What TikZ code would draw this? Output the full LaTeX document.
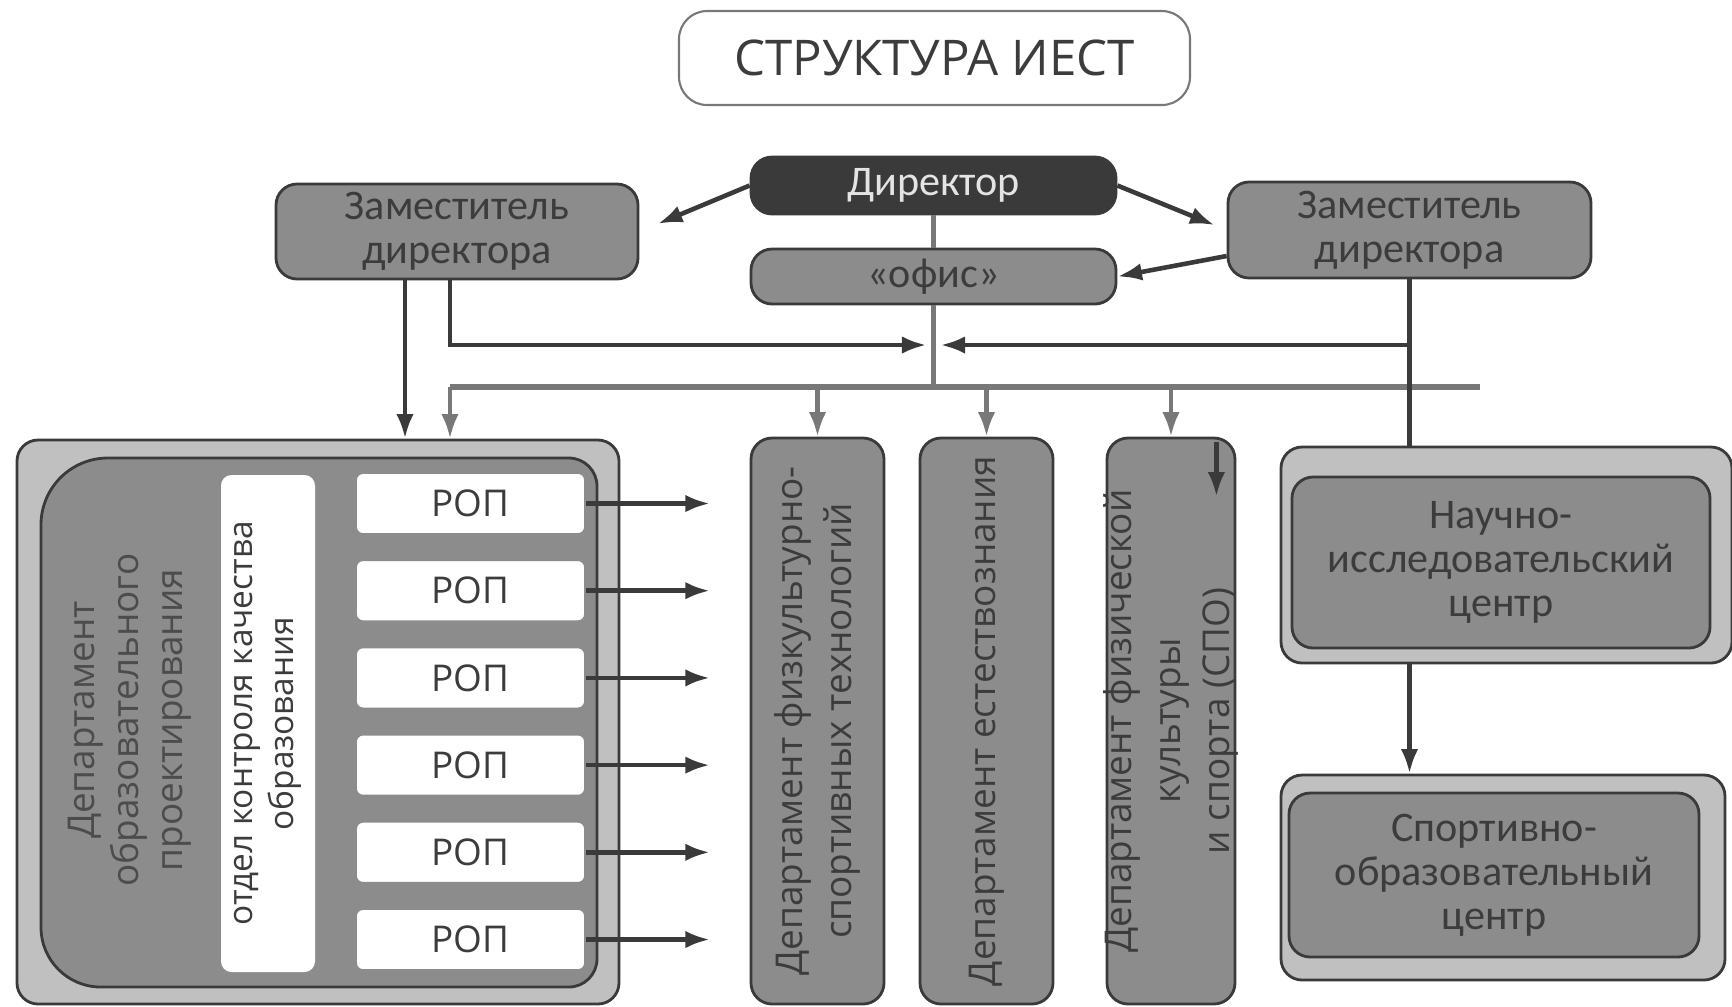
\documentclass[tikz,border=0pt]{standalone}
\usepackage{fontspec}
\setmainfont{Open Sans}
\newfontfamily\narrowfont{Carlito}
\usepackage{tikz}
\usetikzlibrary{calc,arrows.meta,positioning}
\definecolor{dark_gray}{HTML}{3a3a3a}
\definecolor{mid_gray}{HTML}{8c8c8c}
\definecolor{light_gray}{HTML}{c0c0c0}
\definecolor{line_gray}{HTML}{787878}
\definecolor{text_gray}{HTML}{3c3c3c}
\definecolor{pale_text}{HTML}{e4e4e4}

\begin{document}
\begin{tikzpicture}[
	box/.style={draw=dark_gray, line width=0.8pt, fill=mid_gray, rounded corners=6pt, text=text_gray, align=center, inner sep=0pt, font=\narrowfont\fontsize{12}{12.5}\selectfont},
	outerbox/.style={draw=dark_gray, line width=0.8pt, fill=light_gray, rounded corners=6pt, inner sep=0pt},
	ropbox/.style={draw=mid_gray, line width=0.5pt, fill=white, rounded corners=2pt, minimum width=2.29cm, minimum height=0.61cm, inner sep=0pt, text=text_gray, font=\fontsize{10.5}{12}\selectfont},
	colbox/.style={draw=dark_gray, line width=0.8pt, fill=mid_gray, rounded corners=6pt, minimum height=5.66cm, inner sep=0pt},
	coltext/.style={rotate=90, align=center, text=text_gray, font=\fontsize{10.5}{14}\selectfont},
	line/.style={draw=dark_gray, line width=1.3pt},
	arr/.style={line, -{Latex[length=7pt,width=5pt]}},
	busline/.style={draw=line_gray, line width=1.6pt},
	busarr/.style={draw=line_gray, line width=1.2pt, -{Latex[length=7pt,width=5pt]}}
]
	\useasboundingbox (0,0) rectangle (17.32,-10.06);

	\node[draw=line_gray, line width=0.6pt, rounded corners=8pt, minimum width=5.11cm, minimum height=0.94cm, text=text_gray, font=\fontsize{14}{16}\selectfont] (title) at (9.345,-0.58) {СТРУКТУРА ИЕСТ};

	\node[box, fill=dark_gray, text=pale_text, minimum width=3.65cm, minimum height=0.57cm] (dir) at (9.335,-1.855) {Директор};
	\node[box, minimum width=3.65cm, minimum height=0.55cm] (office) at (9.335,-2.765) {«офис»};
	\node[box, minimum width=3.62cm, minimum height=0.95cm] (depL) at (4.57,-2.315) {Заместитель\\директора};
	\node[box, minimum width=3.63cm, minimum height=0.96cm] (depR) at (14.095,-2.30) {Заместитель\\директора};

	% left department
	\node[outerbox, minimum width=6.02cm, minimum height=5.64cm] (outerL) at (3.18,-7.22) {};
	\draw[draw=dark_gray, line width=0.8pt, fill=mid_gray] (0.41,-7.2) [rounded corners=19pt] -- (0.41,-4.58) [rounded corners=8pt] -- (5.97,-4.58) -- (5.97,-9.87) [rounded corners=17pt] -- (0.41,-9.87) -- cycle;
	\node[coltext, text=text_gray!80!mid_gray, font=\fontsize{10.5}{12.5}\selectfont] (deptL) at (1.30,-7.20) {Департамент\\образовательного\\проектирования};
	\node[fill=white, rounded corners=3pt, minimum width=0.94cm, minimum height=4.97cm, inner sep=0pt] (okk) at (2.68,-7.235) {};
	\node[coltext, font=\fontsize{9.5}{11.6}\selectfont] at (okk) {отдел контроля качества\\образования};
	\foreach \i in {1,...,6} {
		\node[ropbox] (rop\i) at (4.705,{-5.035-0.872*(\i-1)}) {РОП};
		\coordinate (ropend\i) at ($(rop\i.east)+(1.24,0)$);
		\draw[arr] (rop\i.east) -- (ropend\i);
	}

	% columns
	\node[colbox, minimum width=1.33cm] (col1) at (8.175,-7.21) {};
	\node[coltext] at (col1) {Департамент физкультурно-\\спортивных технологий};
	\node[colbox, minimum width=1.33cm] (col2) at (9.865,-7.21) {};
	\node[coltext] at (col2) {Департамент естествознания};
	\node[colbox, minimum width=1.28cm] (col3) at (11.71,-7.21) {};
	\node[coltext] at (col3) {Департамент физической\\культуры\\и спорта (СПО)};
	\coordinate (c3a) at ($(col3.north east)+(-0.2,-0.05)$);
	\coordinate (c3b) at ($(c3a)+(0,-0.55)$);
	\draw[arr] (c3a) -- (c3b);

	% centres
	\node[outerbox, minimum width=4.51cm, minimum height=2.16cm] (nicO) at (15.065,-5.55) {};
	\node[box, minimum width=4.18cm, minimum height=1.71cm] (nic) at (15.01,-5.625) {Научно-\\исследовательский\\центр};
	\node[outerbox, minimum width=4.44cm, minimum height=2.05cm] (socO) at (15.03,-8.775) {};
	\node[box, minimum width=4.10cm, minimum height=1.64cm] (soc) at (14.94,-8.75) {Спортивно-\\образовательный\\центр};

	% connectors
	\draw[arr, shorten >=0.2cm] (dir.west) -- (depL.east);
	\draw[arr, shorten >=0.13cm] (dir.east) -- (depR.west);
	\draw[arr] ([yshift=-0.26cm]depR.west) -- (office.east);

	\coordinate (busL) at (4.50,-3.87);
	\coordinate (busR) at (14.80,-3.87);
	\coordinate (hubL) at (9.265,-3.45);
	\coordinate (hubR) at (9.405,-3.45);
	\draw[busline] (dir.south) -- (office.north);
	\draw[busline] (office.south) -- (office.south |- busL);
	\draw[busline] (busL) -- (busR);
	\draw[busarr] (busL) -- (busL |- outerL.north);
	\draw[busarr] (col1.north |- busL) -- (col1.north);
	\draw[busarr] (col2.north |- busL) -- (col2.north);
	\draw[busarr] (col3.north |- busL) -- (col3.north);

	\coordinate (dl1) at ($(depL.south)+(-0.52,0)$);
	\coordinate (dl2) at ($(depL.south)+(-0.07,0)$);
	\draw[arr] (dl1) -- (dl1 |- outerL.north);
	\draw[arr] (dl2) |- (hubL);
	\draw[line] (depR.south) -- (depR.south |- nicO.north);
	\draw[arr] (depR.south |- hubR) -- (hubR);
	\draw[arr] (depR.south |- nicO.south) -- (depR.south |- socO.north);
\end{tikzpicture}
\end{document}
